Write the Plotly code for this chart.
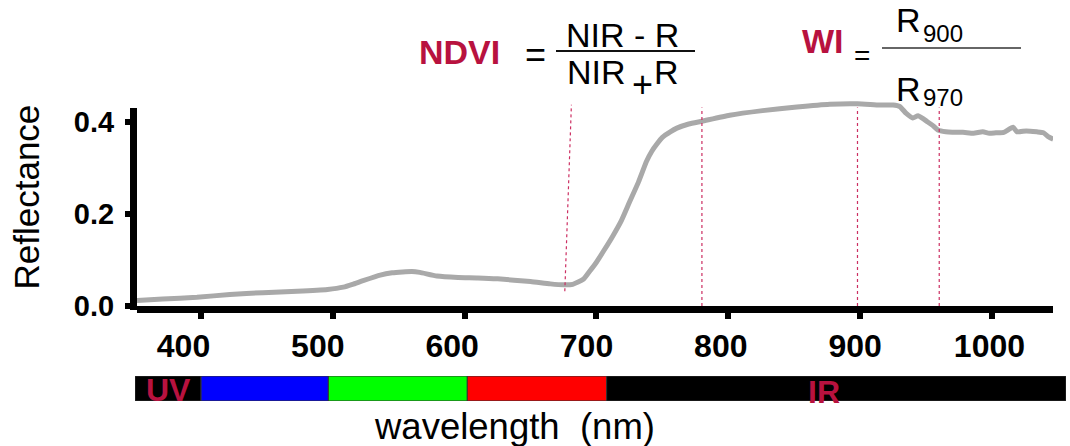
import plotly.graph_objects as go

# ---------------- data ----------------
wavelength_nm = [351.5, 371, 397, 422, 447, 473, 496, 508, 515, 523, 536, 545, 553, 560, 566,
                 579, 595, 610, 625, 650, 665, 675, 682, 690, 695, 700, 706, 712, 719, 725,
                 732, 738, 742, 746, 750, 756, 761, 770, 780, 801, 826, 852, 877, 898, 915, 925,
                 930, 935, 940, 944, 951, 955, 959, 965, 970, 978, 986, 993, 998, 1003, 1009,
                 1016, 1019, 1026, 1034, 1039, 1043, 1046.5]
reflectance = [0.012, 0.015, 0.019, 0.025, 0.029, 0.032, 0.036, 0.041, 0.047, 0.055, 0.067, 0.072,
               0.074, 0.075, 0.073, 0.065, 0.062, 0.061, 0.059, 0.053, 0.048, 0.046, 0.047, 0.058,
               0.076, 0.095, 0.122, 0.150, 0.186, 0.225, 0.270, 0.314, 0.336, 0.352, 0.366, 0.378,
               0.386, 0.395, 0.401, 0.414, 0.424, 0.432, 0.438, 0.439, 0.436, 0.436, 0.433, 0.418,
               0.408, 0.413, 0.400, 0.392, 0.382, 0.378, 0.377, 0.377, 0.375, 0.378, 0.375, 0.376,
               0.377, 0.388, 0.378, 0.380, 0.378, 0.376, 0.367, 0.362]

xtick_vals = [400, 500, 600, 700, 800, 900, 1000]
xtick_text = ["400", "500", "600", "700", "800", "900", "1000"]
ytick_vals = [0.0, 0.2, 0.4]
ytick_text = ["0.0", "0.2", "0.4"]

band_names = ["UV", "blue", "green", "red", "IR"]
band_start = [349.9, 400.0, 496.6, 602.0, 707.7]
band_end = [400.0, 496.6, 602.0, 707.7, 1056.2]
band_colors = ["#000000", "#0000ff", "#00ff00", "#ff0000", "#000000"]

index_lines_nm = [780, 898, 960]          # NIR, R900, R970 markers
red_line_nm = (676, 681)                  # slanted R marker (bottom, top)

# ---------------- layout helpers ----------------
W, H = 1070, 446
ML, MR, MT, MB = 135, 4, 80, 40
PW, PH = W - ML - MR, H - MT - MB


def fx(px):
    return (px - ML) / PW


def fy(py):
    return (H - MB - py) / PH


FONT = "Liberation Sans, Arial, sans-serif"
CRIMSON = "#b8123f"
DOT = "#cc2f62"

PX_PER_UNIT = (306 - 121.7) / 0.4       # vertical scale from the 0.0 and 0.4 ticks
Y_TOP = (306 - 92) / PX_PER_UNIT        # plot area reaches a bit above the drawn axis line

fig = go.Figure()

fig.add_trace(go.Scatter(
    x=wavelength_nm, y=reflectance, mode="lines",
    line=dict(color="#a9a9a9", width=5, shape="spline", smoothing=0.5),
    hoverinfo="skip", showlegend=False))

# invisible carrier so that the tick-label axis is drawn
fig.add_trace(go.Scatter(
    x=xtick_vals, y=[0] * len(xtick_vals), mode="markers", marker=dict(opacity=0),
    xaxis="x3", yaxis="y", hoverinfo="skip", showlegend=False))

fig.add_trace(go.Bar(
    y=[0] * len(band_names), base=band_start,
    x=[e - s for s, e in zip(band_start, band_end)],
    orientation="h", width=1, marker=dict(color=band_colors, line=dict(color="#333333", width=1)),
    xaxis="x2", yaxis="y2", hoverinfo="skip", showlegend=False))

shapes = []
for nm in index_lines_nm:
    shapes.append(dict(type="line", xref="x", yref="y", x0=nm, x1=nm, y0=0, y1=0.431,
                       line=dict(color=DOT, width=1.2, dash="dot"), layer="above"))
shapes.append(dict(type="line", xref="x", yref="y", x0=red_line_nm[0], x1=red_line_nm[1],
                   y0=0.032, y1=0.437, line=dict(color=DOT, width=1.2, dash="dot")))
# y axis line (drawn shorter than the plot area, as in the original)
shapes.append(dict(type="line", xref="paper", yref="paper", x0=fx(133.5), x1=fx(133.5),
                   y0=fy(310), y1=fy(108), line=dict(color="black", width=7), layer="above"))
# fraction bars of the formulas
shapes.append(dict(type="line", xref="paper", yref="paper", x0=fx(556), x1=fx(695), y0=fy(51), y1=fy(51),
                   line=dict(color="#111111", width=2)))
shapes.append(dict(type="line", xref="paper", yref="paper", x0=fx(882), x1=fx(1021), y0=fy(48), y1=fy(48),
                   line=dict(color="#333333", width=1.5)))

annotations = []


def txt(t, cx, cy, size, color="black", bold=False, angle=0):
    annotations.append(dict(
        text=t, x=fx(cx), y=fy(cy), xref="paper", yref="paper", showarrow=False,
        xanchor="center", yanchor="middle", textangle=angle,
        font=dict(family=FONT, size=size, color=color, weight=700 if bold else 400)))


txt("NDVI", 459.5, 52, 34, CRIMSON, True)
txt("=", 535, 54, 36)
txt("NIR - R", 622, 35, 34)
txt("NIR", 596.5, 72, 34)
txt("+", 642.5, 84, 36)
txt("R", 666.5, 72, 34)
txt("WI", 822.5, 41, 34, CRIMSON, True)
txt("=", 862, 56, 28)
txt("R", 908.5, 20, 34)
txt("900", 943, 34, 24)
txt("R", 908.5, 89, 34)
txt("970", 943, 97, 24)
txt("UV", 168, 390, 32, CRIMSON, True)
txt("IR", 824, 391.5, 32, CRIMSON, True)
txt("wavelength\u00a0\u00a0(nm)", 514, 426, 36.5)
txt("Reflectance", 26, 197.5, 35, angle=-90)

fig.update_layout(
    width=W, height=H, margin=dict(l=ML, r=MR, t=MT, b=MB),
    paper_bgcolor="white", plot_bgcolor="white", showlegend=False,
    shapes=shapes, annotations=annotations,
    xaxis=dict(domain=[fx(137), fx(1053)], range=[351.5, 1046.3], anchor="y",
               showline=True, linewidth=7, linecolor="black", showgrid=False, zeroline=False,
               ticks="outside", ticklen=6, tickwidth=6, tickcolor="black",
               tickvals=xtick_vals, showticklabels=False),
    xaxis3=dict(overlaying="x", anchor="y", side="bottom", range=[365.4, 1047.3],
                showline=False, showgrid=False, zeroline=False, ticks="",
                tickvals=xtick_vals, ticktext=xtick_text, ticklabelstandoff=18,
                tickfont=dict(family=FONT, size=32, color="black", weight=700)),
    yaxis=dict(domain=[fy(306), fy(92)], range=[0, Y_TOP], anchor="x",
               showline=False, showgrid=False, zeroline=False,
               ticks="outside", ticklen=11, tickwidth=6, tickcolor="black",
               tickvals=ytick_vals, ticktext=ytick_text, ticklabelstandoff=5,
               tickfont=dict(family=FONT, size=29, color="black", weight=700)),
    xaxis2=dict(domain=[0, 1], range=[band_start[0], band_end[-1]], anchor="y2", visible=False),
    yaxis2=dict(domain=[fy(401), fy(376)], range=[-0.5, 0.5], anchor="x2", visible=False),
)

fig.write_html("out.html", config={"displayModeBar": False},
               post_script="document.body.style.margin='0px';")
